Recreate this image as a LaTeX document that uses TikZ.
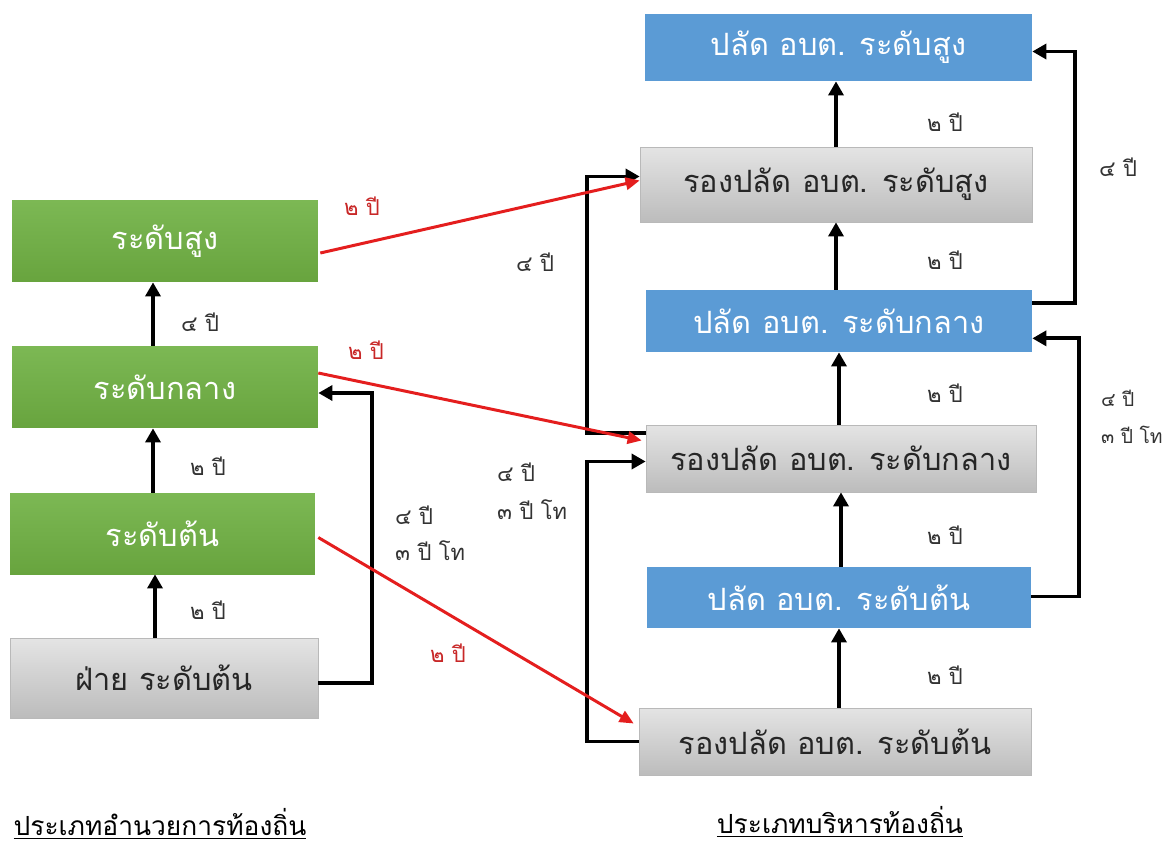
\documentclass[tikz,border=0pt]{standalone}
\usepackage{fontspec}
\setmainfont[Script=Thai]{Loma}
\usetikzlibrary{arrows.meta,calc}
\definecolor{grnL}{RGB}{124,184,84}
\definecolor{grnD}{RGB}{104,164,62}
\definecolor{blu}{RGB}{91,155,213}
\definecolor{gryL}{RGB}{228,228,228}
\definecolor{gryD}{RGB}{188,188,188}
\definecolor{redA}{RGB}{228,30,30}
\definecolor{lblRed}{RGB}{200,40,40}
\begin{document}
\begin{tikzpicture}[x=0.02cm,y=-0.02cm,
  boxtxt/.style={font=\fontsize{17.5}{20}\selectfont, inner sep=0pt},
  gbox/.style={boxtxt, top color=grnL, bottom color=grnD, text=white},
  bbox/.style={boxtxt, fill=blu, text=white},
  ybox/.style={boxtxt, top color=gryL, bottom color=gryD, draw=gray!55, line width=0.4pt, text=black!85},
  lbl/.style={font=\fontsize{12.5}{14}\selectfont, text=black!80, inner sep=1pt},
  slbl/.style={font=\fontsize{11}{13}\selectfont, text=black!80, inner sep=1pt},
  rlbl/.style={font=\fontsize{12.5}{14}\selectfont, text=lblRed, inner sep=1pt},
  blk/.style={line width=2.2pt, -{Triangle[length=8pt,width=8.5pt]}, black},
  redarr/.style={line width=1.7pt, -{Triangle[length=8pt,width=7pt]}, redA},
  ttl/.style={font=\fontsize{15}{18}\selectfont, inner sep=1pt}
]
\useasboundingbox (0,0) rectangle (1167,849);

% left column
\node[gbox, minimum width=6.12cm, minimum height=1.64cm] (A1) at (165,241) {ระดับสูง};
\node[gbox, minimum width=6.12cm, minimum height=1.64cm] (A2) at (165,387) {ระดับกลาง};
\node[gbox, minimum width=6.10cm, minimum height=1.62cm] (A3) at (162.5,533.5) {ระดับต้น};
\node[ybox, minimum width=6.16cm, minimum height=1.60cm] (A4) at (164,678) {ฝ่าย ระดับต้น};

% right column
\node[bbox, minimum width=7.74cm, minimum height=1.34cm] (B1) at (838.5,47.5) {ปลัด อบต. ระดับสูง};
\node[ybox, minimum width=7.84cm, minimum height=1.50cm] (B2) at (836,184.5) {รองปลัด อบต. ระดับสูง};
\node[bbox, minimum width=7.72cm, minimum height=1.24cm] (B3) at (839,321) {ปลัด อบต. ระดับกลาง};
\node[ybox, minimum width=7.80cm, minimum height=1.34cm] (B4) at (841,458.5) {รองปลัด อบต. ระดับกลาง};
\node[bbox, minimum width=7.68cm, minimum height=1.22cm] (B5) at (839,597.5) {ปลัด อบต. ระดับต้น};
\node[ybox, minimum width=7.84cm, minimum height=1.34cm] (B6) at (835,741.5) {รองปลัด อบต. ระดับต้น};

% left vertical arrows
\draw[blk] ([xshift=-0.24cm]A2.north) -- ([xshift=-0.24cm]A1.south);
\draw[blk] ([xshift=-0.19cm]A3.north) -- ([xshift=-0.19cm]A3.north |- A2.south);
\draw[blk] ([xshift=-0.18cm]A4.north) -- ([xshift=-0.18cm]A4.north |- A3.south);

% right vertical arrows
\draw[blk] (B2.north) -- (B2.north |- B1.south);
\draw[blk] (B3.north -| B2.south) -- (B2.south);
\draw[blk] (B4.north -| B3.south) -- (B3.south);
\draw[blk] (B5.north -| B4.south) -- (B4.south);
\draw[blk] (B6.north -| B5.south) -- (B5.south);

% elbow connectors
\draw[blk] ($(A4.east)+(0,5)$) -- ++(54,0) |- ($(A2.east)+(0,6)$);
\draw[blk] ($(B4.north west)+(0,8)$) -- ++(-59,0) |- ($(B2.west)+(0,-8)$);
\draw[blk] (B6.west) -- ++(-52,0) |- ($(B4.west)+(0,3)$);
\draw[blk] ($(B3.north east)+(0,13)$) -- ++(43,0) |- ($(B1.east)+(0,4)$);
\draw[blk] ($(B5.east)+(0,-1)$) -- ++(48,0) |- ($(B3.south east)+(0,-14)$);

% red arrows
\draw[redarr] ($(A1.east)+(2,12)$) -- ($(B2.west)+(0,-4)$);
\draw[redarr] ($(A2.east)+(0,-14)$) -- ($(B4.west)+(-4,-18)$);
\draw[redarr] ($(A3.east)+(3,4)$) -- ($(B6.west)+(-5,-18)$);

% red labels
\node[rlbl] (r1) at (362,206) {๒ ปี};
\node[rlbl] (r2) at (366,350) {๒ ปี};
\node[rlbl] (r3) at (448,653) {๒ ปี};

% left labels
\node[lbl] (l1) at (200,322) {๔ ปี};
\node[lbl] (l2) at (208,466) {๒ ปี};
\node[lbl] (l3) at (208,610) {๒ ปี};
\node[lbl, anchor=west] (l4) at (393,515) {๔ ปี};
\node[lbl, anchor=west] (l5) at (393,551) {๓ ปี โท};

% middle labels
\node[lbl] (m1) at (535,262) {๔ ปี};
\node[lbl, anchor=west] (m2) at (495,472) {๔ ปี};
\node[lbl, anchor=west] (m3) at (495,510) {๓ ปี โท};

% right labels
\node[lbl] (k1) at (945,122) {๒ ปี};
\node[lbl] (k2) at (945,260) {๒ ปี};
\node[lbl] (k3) at (945,393) {๒ ปี};
\node[lbl] (k4) at (945,535) {๒ ปี};
\node[lbl] (k5) at (945,675) {๒ ปี};
\node[lbl] (k6) at (1118,167) {๔ ปี};
\node[slbl, anchor=west] (k7) at (1099,398) {๔ ปี};
\node[slbl, anchor=west] (k8) at (1099,435) {๓ ปี โท};

% titles
\node[ttl] (t1) at (160,824) {\underline{ประเภทอำนวยการท้องถิ่น}};
\node[ttl] (t2) at (840,822) {\underline{ประเภทบริหารท้องถิ่น}};
\end{tikzpicture}
\end{document}
